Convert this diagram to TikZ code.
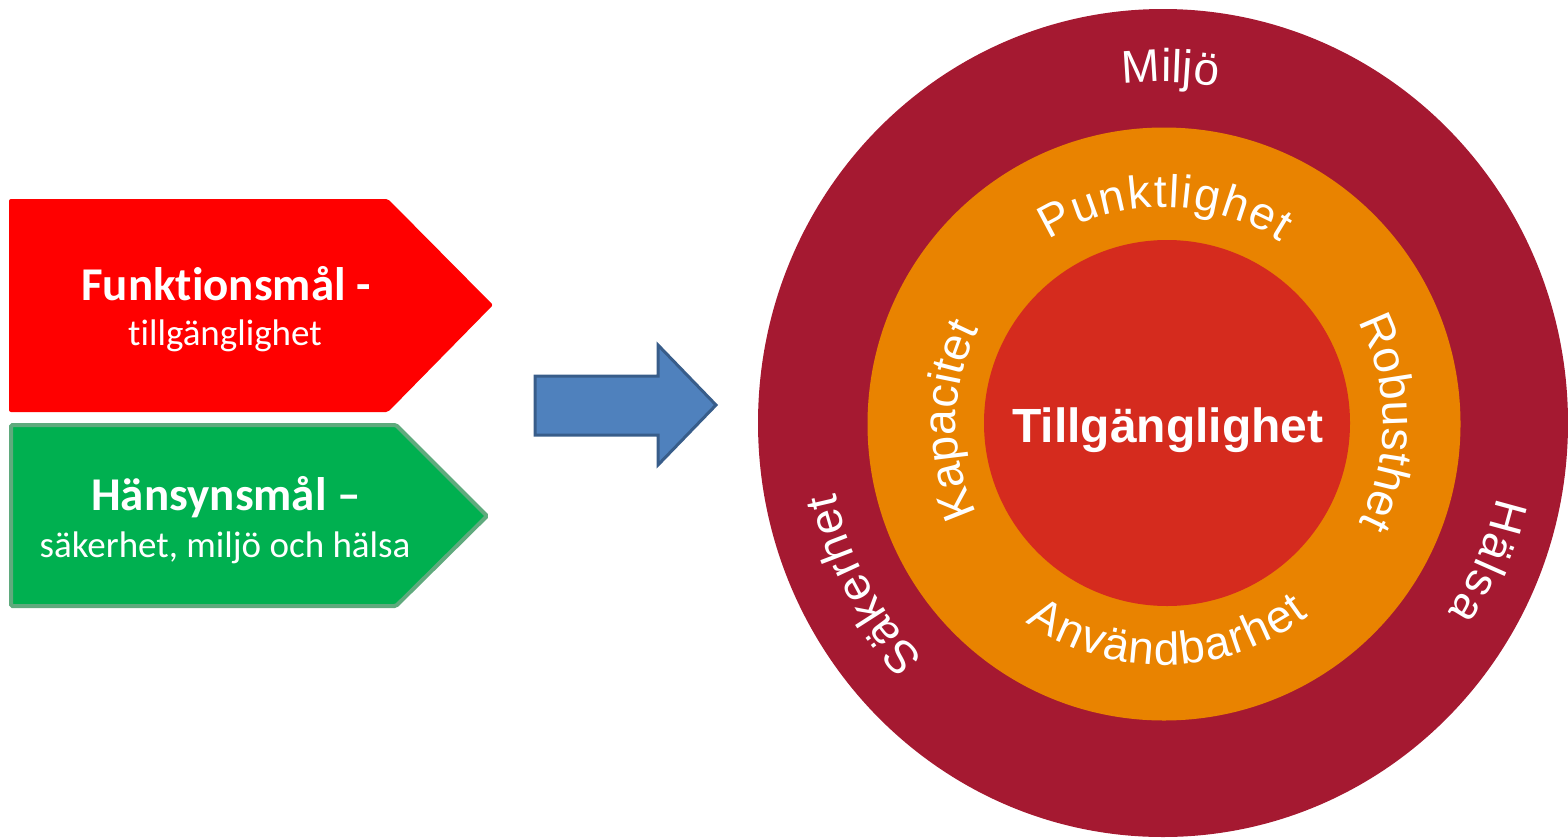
\documentclass[tikz,border=0pt]{standalone}
\usepackage{fontspec}
\usetikzlibrary{decorations.text}
\newfontfamily\arialfont{Liberation Sans}
\newfontfamily\calibrifont[Ligatures={NoCommon,NoRare}]{Carlito}
\definecolor{outerred}{RGB}{165,25,49}
\definecolor{ringorange}{RGB}{233,131,0}
\definecolor{innerred}{RGB}{213,43,30}
\definecolor{boxred}{RGB}{255,0,0}
\definecolor{boxgreen}{RGB}{0,176,80}
\definecolor{boxgreenline}{RGB}{95,170,125}
\definecolor{arrowblue}{RGB}{79,129,189}
\definecolor{arrowline}{RGB}{56,93,138}
\newcommand{\ringfont}{\arialfont\fontsize{46}{46}\selectfont}
\tikzset{
  ringtext/.style={decorate, decoration={text along path, text align={fit to path}, text color=white, text={|\ringfont|#1}}},
  boxhead/.style={anchor=base, text=white, inner sep=0pt, font=\calibrifont\bfseries\fontsize{47}{47}\selectfont},
  boxsub/.style={anchor=base, text=white, inner sep=0pt, font=\calibrifont\fontsize{37}{37}\selectfont}
}
\begin{document}
\begin{tikzpicture}[x=1pt,y=1pt]
\useasboundingbox (0,0) rectangle (1568,-838);
% left boxes
\fill[boxred, rounded corners=2pt] (9,-199) -- (388,-199) -- (493,-305) -- (388,-412) -- (9,-412) -- cycle;
\draw[boxgreenline, fill=boxgreen, line width=4pt, rounded corners=1.5pt] (11,-425) -- (396,-425) -- (487,-516) -- (396,-606) -- (11,-606) -- cycle;
\node[boxhead] (f1) at (226,-300) {Funktionsmål -};
\node[boxsub] (f2) at (225,-345) {tillgänglighet};
\node[boxhead] (h1) at (226,-510) {Hänsynsmål –};
\node[boxsub] (h2) at (225,-557) {säkerhet, miljö och hälsa};
% arrow
\draw[arrowline, fill=arrowblue, line width=3pt, line join=miter] (535,-376) -- (658,-376) -- (658,-345) -- (716,-405) -- (658,-465) -- (658,-435) -- (535,-435) -- cycle;
% circles
\coordinate (C) at (1163,-423);
\fill[outerred] (C) ellipse[x radius=405, y radius=414];
\fill[ringorange] (1164,-424) circle[radius=296.5];
\fill[innerred] (1167,-423) circle[radius=183];
\node[anchor=base, text=white, inner sep=0pt, font=\arialfont\bfseries\fontsize{48}{48}\selectfont] (tg) at (1168,-442) {Tillgänglighet};
% ring texts (orange)
\path[ringtext=Punktlighet] ([shift={(C)}]122:216) arc[start angle=122, end angle=57, radius=216];
\path[ringtext=Kapacitet] ([shift={(C)}]206:207) arc[start angle=206, end angle=153, radius=207];
\path[ringtext=Robusthet] ([shift={(C)}]27.5:220) arc[start angle=27.5, end angle=-25.5, radius=220];
\path[ringtext=Användbarhet] ([shift={(C)}]235.5:242) arc[start angle=235.5, end angle=307, radius=242];
% ring texts (outer)
\path[ringtext=Miljö] ([shift={(C)}]96.8:341) arc[start angle=96.8, end angle=80.8, radius=341];
\path[ringtext=Säkerhet] ([shift={(C)}]224.5:335) arc[start angle=224.5, end angle=192, radius=335];
\path[ringtext=Hälsa] ([shift={(C)}]-12.5:342) arc[start angle=-12.5, end angle=-33.5, radius=342];
\end{tikzpicture}
\end{document}
